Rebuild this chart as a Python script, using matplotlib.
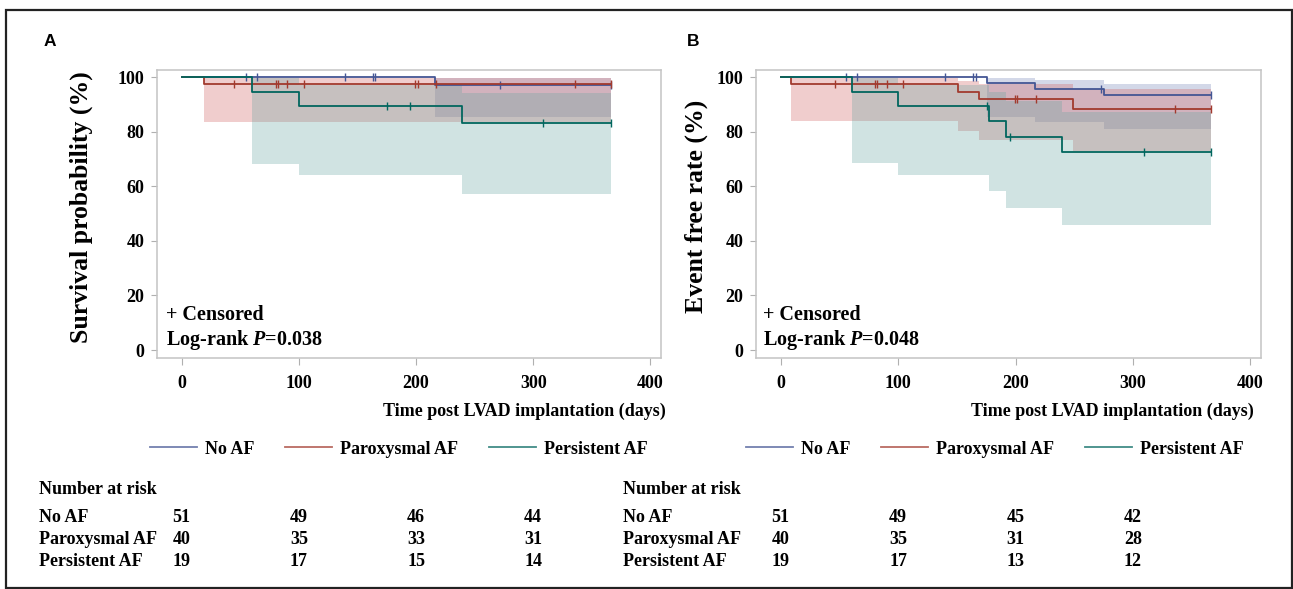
import matplotlib
matplotlib.use("Agg")
import matplotlib.pyplot as plt
from matplotlib.lines import Line2D
from matplotlib.patches import Rectangle
import numpy as np

plt.rcParams['font.family'] = ['Liberation Serif', 'DejaVu Serif']
plt.rcParams['font.weight'] = 'bold'
plt.rcParams['mathtext.fontset'] = 'custom'
plt.rcParams['mathtext.rm'] = 'Liberation Serif:bold'
plt.rcParams['mathtext.it'] = 'Liberation Serif:bold:italic'

W, H = 1293, 589

groups = ["No AF", "Paroxysmal AF", "Persistent AF"]
line_colors = ["#445694", "#A23A2E", "#01665E"]
fill_colors = ["#6F7EB3", "#D05B5B", "#66A5A0"]

# ---- Panel A: survival ----
a_noaf_t = [0, 216, 366]
a_noaf_s = [100, 97.1, 97.1]
a_noaf_cens = [55, 64, 139, 163, 165, 272, 366]
a_noaf_band_t = [216, 366]
a_noaf_lo = [85.2, 85.2]
a_noaf_hi = [99.6, 99.6]

a_parox_t = [0, 19, 366]
a_parox_s = [100, 97.3, 97.3]
a_parox_cens = [45, 80.5, 82, 89.5, 104, 199.5, 202, 217, 336, 366]
a_parox_band_t = [19, 366]
a_parox_lo = [83.5, 83.5]
a_parox_hi = [99.6, 99.6]

a_pers_t = [0, 60, 100, 239, 366]
a_pers_s = [100, 94.4, 89.4, 83.3, 83.3]
a_pers_cens = [175, 195, 308, 366]
a_pers_band_t = [60, 100, 239, 366]
a_pers_lo = [68.1, 64.0, 57.1, 57.1]
a_pers_hi = [99.6, 97.0, 94.0, 94.0]

# ---- Panel B: event free ----
b_noaf_t = [0, 175.5, 216.4, 275.4, 366]
b_noaf_s = [100, 97.7, 95.7, 93.5, 93.5]
b_noaf_cens = [55.4, 65.3, 139.7, 164, 166, 273, 366]
b_noaf_band_t = [175.5, 216.4, 275.4, 366]
b_noaf_lo = [85.2, 83.6, 81.0, 81.0]
b_noaf_hi = [99.6, 98.9, 97.6, 97.6]

b_parox_t = [0, 8.5, 151, 169, 249.3, 366]
b_parox_s = [100, 97.3, 94.4, 91.8, 88.3, 88.3]
b_parox_cens = [46, 80.3, 82.3, 90.3, 104.5, 199.6, 201.6, 217.2, 336, 366]
b_parox_band_t = [8.5, 151, 169, 249.3, 366]
b_parox_lo = [83.9, 80.3, 76.9, 73.0, 73.0]
b_parox_hi = [99.6, 98.7, 97.4, 95.5, 95.5]

b_pers_t = [0, 61, 100, 177.4, 192.2, 239.4, 366]
b_pers_s = [100, 94.6, 89.5, 83.9, 78.1, 72.4, 72.4]
b_pers_cens = [175.5, 195.3, 309, 366]
b_pers_band_t = [61, 100, 177.4, 192.2, 239.4, 366]
b_pers_lo = [68.4, 64.1, 58.2, 52.1, 45.8, 45.8]
b_pers_hi = [99.6, 97.2, 94.5, 91.3, 87.3, 87.3]

# number at risk
risk_times = [0, 100, 200, 300]
a_risk = [[51, 49, 46, 44], [40, 35, 33, 31], [19, 17, 15, 14]]
b_risk = [[51, 49, 45, 42], [40, 35, 31, 28], [19, 17, 13, 12]]

x_ticks = [0, 100, 200, 300, 400]
y_ticks = [0, 20, 40, 60, 80, 100]


def fx(px):
    return px / W


def fy(py):
    return 1 - py / H


fig = plt.figure(figsize=(W / 100, H / 100), dpi=100)

panels = [
    dict(box=(157, 661), letter="A", letter_x=50, ylabel="Survival probability (%)", ylab_x=-0.127,
         xlab_x=1.01, p="0.038", note_x=166, leg_x=150, tab_x=39, risk=a_risk,
         curves=[(a_noaf_t, a_noaf_s, a_noaf_cens, a_noaf_band_t, a_noaf_lo, a_noaf_hi),
                 (a_parox_t, a_parox_s, a_parox_cens, a_parox_band_t, a_parox_lo, a_parox_hi),
                 (a_pers_t, a_pers_s, a_pers_cens, a_pers_band_t, a_pers_lo, a_pers_hi)]),
    dict(box=(756, 1261), letter="B", letter_x=693, ylabel="Event free rate (%)", ylab_x=-0.095,
         xlab_x=0.986, p="0.048", note_x=763, leg_x=746, tab_x=623, risk=b_risk,
         curves=[(b_noaf_t, b_noaf_s, b_noaf_cens, b_noaf_band_t, b_noaf_lo, b_noaf_hi),
                 (b_parox_t, b_parox_s, b_parox_cens, b_parox_band_t, b_parox_lo, b_parox_hi),
                 (b_pers_t, b_pers_s, b_pers_cens, b_pers_band_t, b_pers_lo, b_pers_hi)]),
]

top, bottom = 70, 358
for pn in panels:
    l, r = pn["box"]
    ax = fig.add_axes([fx(l), fy(bottom), fx(r - l), (bottom - top) / H])
    # CI bands under the curves
    for (t, s, cens, bt, lo, hi), fc in zip(pn["curves"], fill_colors):
        ax.fill_between(bt, lo, hi, step='post', color=fc, alpha=0.3, lw=0)
    for (t, s, cens, bt, lo, hi), lc in zip(pn["curves"], line_colors):
        ax.step(t, s, where='post', color=lc, lw=1.3)
        idx = np.searchsorted(t, cens, side='right') - 1
        ax.plot(cens, np.asarray(s)[idx], ls='none', marker='|', ms=5.5, mew=1.0, color=lc)

    ax.set_xlim(-21, 409)
    ax.set_ylim(-2.9, 102.6)
    ax.set_xticks(x_ticks)
    ax.set_yticks(y_ticks)
    for sp in ax.spines.values():
        sp.set_color("#c4c4c4")
        sp.set_linewidth(1.1)
    ax.tick_params(axis='both', color="#b0b0b0", width=0.8, labelsize=13)
    ax.tick_params(axis='x', length=5, pad=7)
    ax.tick_params(axis='y', length=4, pad=5)
    for lab in ax.get_xticklabels() + ax.get_yticklabels():
        lab.set_fontweight('bold')

    ax.set_ylabel(pn["ylabel"], fontsize=18.5, fontweight='bold')
    ax.yaxis.set_label_coords(pn["ylab_x"], 0.525)
    ax.set_xlabel("Time post LVAD implantation (days)", fontsize=13, fontweight='bold', ha='right', va='center')
    ax.xaxis.set_label_coords(pn["xlab_x"], -0.184)

    fig.text(fx(pn["note_x"]), fy(315), "+ Censored", fontsize=14.5, fontweight='bold', va='center')
    fig.text(fx(pn["note_x"]), fy(340), "Log-rank $P$=" + pn["p"], fontsize=14.5, fontweight='bold', va='center')

    fig.text(fx(pn["letter_x"]), fy(41), pn["letter"], fontsize=12.5, fontweight='bold',
             family='Liberation Sans', ha='center', va='center')

    handles = [Line2D([], [], color=c, lw=1.3, alpha=0.75) for c in line_colors]
    fig.legend(handles, groups, loc='center left', bbox_to_anchor=(fx(pn["leg_x"]), fy(449)),
               ncol=3, frameon=False, borderpad=0, borderaxespad=0, handlelength=2.6,
               handletextpad=0.45, columnspacing=1.7, prop=dict(family='Liberation Serif', weight='bold', size=13))

    # number at risk table
    fig.text(fx(pn["tab_x"]), fy(489), "Number at risk", fontsize=13, fontweight='bold', va='center')
    trans = matplotlib.transforms.blended_transform_factory(ax.transData, fig.transFigure)
    for row_y, g, vals in zip([517, 539, 562], groups, pn["risk"]):
        fig.text(fx(pn["tab_x"]), fy(row_y), g, fontsize=13, fontweight='bold', va='center')
        for tt, v in zip(risk_times, vals):
            ax.text(tt, fy(row_y), str(v), transform=trans, fontsize=13, fontweight='bold',
                    ha='center', va='center', clip_on=False)

fig.patches.append(Rectangle((fx(6), fy(588)), fx(1286), 578 / H, transform=fig.transFigure,
                             fill=False, ec="#222222", lw=1.6))

fig.savefig("out.png", dpi=100)
